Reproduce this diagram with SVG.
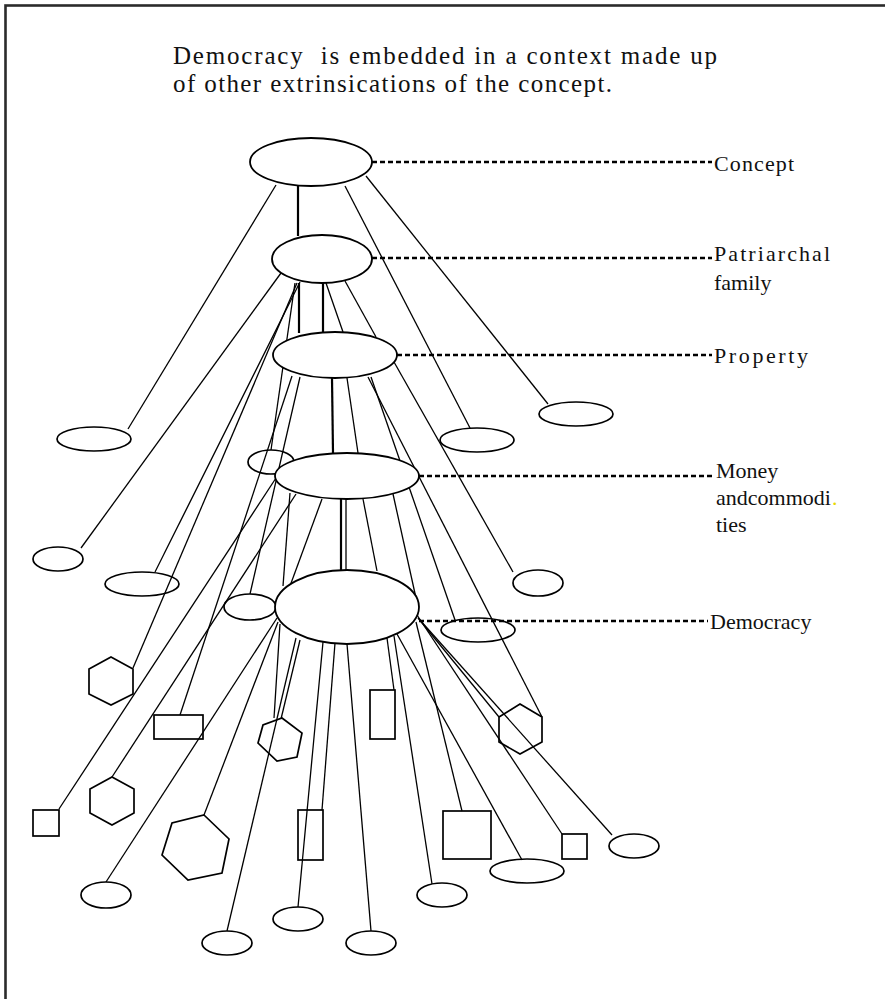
<svg xmlns="http://www.w3.org/2000/svg" width="885" height="999" viewBox="0 0 885 999">
<style>
.frame{fill:none;stroke:#2b2b2b;stroke-width:2.6}
.ln{stroke:#000;stroke-width:1.3;fill:none}
.lt{stroke:#000;stroke-width:2.2;fill:none}
.dot{stroke:#000;stroke-width:2.6;stroke-dasharray:5 3;fill:none}
.lvl{fill:#fff;stroke:#000;stroke-width:1.8}
.sh{fill:none;stroke:#000;stroke-width:1.7}
.tx{font-family:"Liberation Serif","Times New Roman",serif;fill:#111}
.title{font-size:25px}
.lab{font-size:22px}
</style>
<rect class="frame" x="5.5" y="5.5" width="920" height="1030"/>
<g id="title" class="tx title">
<text x="173" y="64" textLength="544" lengthAdjust="spacing">Democracy&#160; is embedded in a context made up</text>
<text x="173" y="92" textLength="439" lengthAdjust="spacing">of other extrinsications of the concept.</text>
</g>
<g id="connectors">
<line class="ln" x1="276" y1="185" x2="128" y2="429"/>
<line class="lt" x1="298" y1="186" x2="298" y2="236"/>
<line class="ln" x1="345" y1="186" x2="470" y2="428"/>
<line class="ln" x1="366" y1="176" x2="548" y2="404"/>
<line class="ln" x1="281" y1="273" x2="81" y2="548"/>
<line class="ln" x1="300" y1="282" x2="155" y2="572"/>
<line class="ln" x1="297" y1="283" x2="133" y2="668"/>
<line class="ln" x1="295" y1="283" x2="271" y2="450"/>
<line class="lt" x1="299" y1="283" x2="299" y2="333"/>
<line class="lt" x1="323" y1="283" x2="323" y2="332"/>
<line class="ln" x1="326" y1="283" x2="343" y2="332"/>
<line class="ln" x1="345" y1="281" x2="376" y2="337"/>
<line class="lt" x1="332" y1="378" x2="333" y2="453"/>
<line class="ln" x1="347" y1="378" x2="358" y2="453"/>
<line class="ln" x1="292" y1="376" x2="180" y2="715"/>
<line class="ln" x1="300" y1="377" x2="250" y2="594"/>
<line class="ln" x1="368" y1="377" x2="542" y2="717"/>
<line class="ln" x1="371" y1="377" x2="455" y2="620"/>
<line class="ln" x1="394" y1="362" x2="513" y2="572"/>
<line class="ln" x1="276" y1="478" x2="59" y2="809"/>
<line class="ln" x1="296" y1="494" x2="112" y2="777"/>
<line class="ln" x1="290" y1="493" x2="283" y2="586"/>
<line class="ln" x1="322" y1="499" x2="290" y2="586"/>
<line class="lt" x1="341" y1="499" x2="341" y2="570"/>
<line class="ln" x1="346" y1="499" x2="346" y2="570"/>
<line class="ln" x1="363" y1="499" x2="377" y2="571"/>
<line class="ln" x1="393" y1="494" x2="416" y2="598"/>
<line class="ln" x1="277" y1="618" x2="106" y2="882"/>
<line class="ln" x1="278" y1="622" x2="204" y2="815"/>
<line class="ln" x1="280" y1="624" x2="274" y2="718"/>
<line class="ln" x1="300" y1="640" x2="281" y2="719"/>
<line class="ln" x1="296" y1="638" x2="227" y2="931"/>
<line class="ln" x1="323" y1="642" x2="298" y2="907"/>
<line class="ln" x1="335" y1="643" x2="322" y2="810"/>
<line class="ln" x1="347" y1="644" x2="371" y2="931"/>
<line class="ln" x1="387" y1="638" x2="394" y2="690"/>
<line class="ln" x1="394" y1="636" x2="432" y2="884"/>
<line class="ln" x1="397" y1="634" x2="522" y2="860"/>
<line class="ln" x1="416" y1="622" x2="462" y2="811"/>
<line class="ln" x1="417" y1="615" x2="562" y2="834"/>
<line class="ln" x1="419" y1="619" x2="612" y2="835"/>
<line class="ln" x1="418" y1="618" x2="499" y2="717"/>
</g>
<g id="shapes">
<ellipse id="e1" class="sh" cx="94" cy="439" rx="37" ry="12"/>
<ellipse id="e2" class="sh" cx="477" cy="440" rx="37" ry="12"/>
<ellipse id="e3" class="sh" cx="576" cy="414" rx="37" ry="12"/>
<ellipse id="e4" class="sh" cx="271" cy="462" rx="23" ry="12"/>
<ellipse id="e5" class="sh" cx="58" cy="559" rx="25" ry="12"/>
<ellipse id="e6" class="sh" cx="142" cy="584" rx="37" ry="12"/>
<ellipse id="e7" class="sh" cx="538" cy="583" rx="25" ry="13"/>
<ellipse id="e8" class="sh" cx="250" cy="607" rx="26" ry="13"/>
<ellipse id="e9" class="sh" cx="478" cy="630" rx="37" ry="12"/>
<ellipse id="e10" class="sh" cx="106" cy="895" rx="25" ry="13"/>
<ellipse id="e11" class="sh" cx="227" cy="943" rx="25" ry="12"/>
<ellipse id="e12" class="sh" cx="298" cy="919" rx="25" ry="12"/>
<ellipse id="e13" class="sh" cx="371" cy="943" rx="25" ry="12"/>
<ellipse id="e14" class="sh" cx="442" cy="895" rx="25" ry="12"/>
<ellipse id="e15" class="sh" cx="527" cy="871" rx="37" ry="12"/>
<ellipse id="e16" class="sh" cx="634" cy="846" rx="25" ry="12"/>
<rect id="r1" class="sh" x="154" y="715" width="49" height="24"/>
<rect id="r2" class="sh" x="370" y="690" width="25" height="49"/>
<rect id="r3" class="sh" x="33" y="810" width="26" height="26"/>
<rect id="r4" class="sh" x="298" y="810" width="25" height="50"/>
<rect id="r5" class="sh" x="443" y="811" width="48" height="48"/>
<rect id="r6" class="sh" x="562" y="834" width="25" height="25"/>
<polygon id="h1" class="sh" points="111,657 133,669 133,694 111,705 89,694 89,669"/>
<polygon id="h2" class="sh" points="112,777 134,789 134,813 112,825 90,813 90,789"/>
<polygon id="h3" class="sh" points="520,704 542,717 542,742 520,754 499,742 499,717"/>
<polygon id="h4" class="sh" points="282,718 302,733 297,757 277,761 258,743 263,725"/>
<polygon id="h5" class="sh" points="204,815 229,839 222,873 188,880 162,855 172,823"/>
</g>
<g id="levels">
<g id="concept"><ellipse class="lvl" cx="311" cy="162" rx="61" ry="24"/></g>
<g id="patriarchal"><ellipse class="lvl" cx="322" cy="259" rx="50" ry="24"/></g>
<g id="property"><ellipse class="lvl" cx="335" cy="355" rx="62" ry="23"/></g>
<g id="money"><ellipse class="lvl" cx="347" cy="476" rx="72" ry="23"/></g>
<g id="democracy"><ellipse class="lvl" cx="347" cy="607" rx="72" ry="37"/></g>
</g>
<g id="leaders">
<line class="dot" x1="372" y1="162" x2="712" y2="162"/>
<line class="dot" x1="372" y1="258" x2="712" y2="258"/>
<line class="dot" x1="397" y1="355" x2="712" y2="355"/>
<line class="dot" x1="419" y1="476" x2="712" y2="476"/>
<line class="dot" x1="419" y1="621" x2="708" y2="621"/>
</g>
<g id="labels" class="tx lab">
<text x="714" y="171" textLength="80" lengthAdjust="spacing">Concept</text>
<text x="714" y="261" textLength="116" lengthAdjust="spacing">Patriarchal</text>
<text x="714" y="290">family</text>
<text x="714" y="363" textLength="94" lengthAdjust="spacing">Property</text>
<text x="716" y="478">Money</text>
<text x="716" y="505">andcommodi</text>
<text x="832" y="505" style="fill:#e8d800">.</text>
<text x="716" y="532">ties</text>
<text x="710" y="629">Democracy</text>
</g>
</svg>
